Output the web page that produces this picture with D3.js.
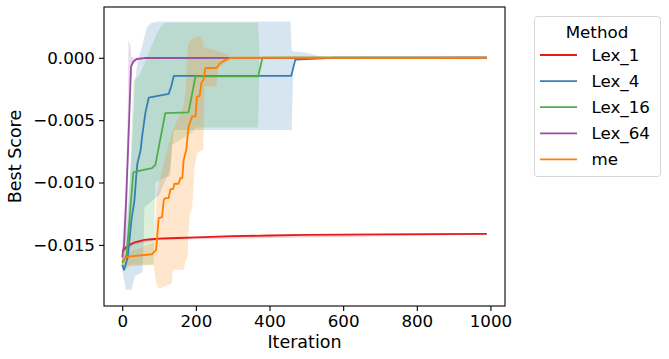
<!DOCTYPE html>
<html><head><meta charset="utf-8">
<script src="https://cdn.jsdelivr.net/npm/d3@7"></script>
<style>body{margin:0;background:#fff}svg{display:block}text{font-family:"DejaVu Sans",sans-serif;fill:#000}</style>
</head><body><svg id="c" width="669" height="359"></svg>
<script>
// ---- data ----
const methods = ["Lex_1","Lex_4","Lex_16","Lex_64","me"];
const colors = ["#e41a1c","#377eb8","#4daf4a","#984ea3","#ff7f00"];
const xTicks = [0,200,400,600,800,1000];
const yTicks = [0,-0.005,-0.010,-0.015];
const yTickLabels = ["0.000","\u22120.005","\u22120.010","\u22120.015"];

const lex1Iter = [0,10,20,30,40,60,80,100,150,200,300,400,500,700,990];
const lex1Val  = [-0.01554,-0.0152,-0.0150,-0.01485,-0.01475,-0.0146,-0.01455,-0.0145,-0.01445,-0.0144,-0.0143,-0.01425,-0.0142,-0.01416,-0.01412];
const lex1BandIter = [0,30,100,990];
const lex1Low = [-0.0157,-0.0150,-0.01458,-0.01418];
const lex1High= [-0.0154,-0.0147,-0.01442,-0.01406];

const lex4Iter = [0,5,15,25,33,38,41,50,54,63,72,90,126,133,140,459,470,573,990];
const lex4Val  = [-0.0166,-0.0170,-0.0160,-0.0130,-0.0115,-0.0095,-0.0085,-0.0074,-0.0063,-0.0044,-0.0032,-0.0031,-0.0029,-0.0023,-0.00145,-0.00145,-0.00015,0,0];
const lex4BandIter = [0,10,25,30,35,41,55,58,60,68,80,100,130,140,457,460,465,500,540,575,990];
const lex4Low  = [-0.0170,-0.0186,-0.0186,-0.0180,-0.0175,-0.0174,-0.0172,-0.0150,-0.0120,-0.0118,-0.0115,-0.0110,-0.0090,-0.0058,-0.0058,-0.0058,-0.0002,-0.0001,-0.00005,0,0];
const lex4High = [-0.0160,-0.0140,-0.0080,-0.0050,-0.0018,-0.0004,0.0010,0.0014,0.0017,0.0025,0.0028,0.0029,0.0029,0.0029,0.0029,0.0006,0.0005,0.0004,0.0001,0,0];

const lex16Iter = [0,12,22,30,36,81,90,117,180,199,369,381,990];
const lex16Val  = [-0.01645,-0.0158,-0.0122,-0.0092,-0.00912,-0.00884,-0.00858,-0.00443,-0.00438,-0.00149,-0.00149,0,0];
const lex16BandIter = [0,10,20,30,45,60,80,85,90,105,115,130,135,190,200,369,373,990];
const lex16Low  = [-0.0168,-0.0170,-0.0166,-0.0166,-0.0166,-0.0166,-0.0166,-0.0166,-0.0100,-0.0098,-0.0096,-0.0095,-0.0070,-0.0060,-0.0056,-0.0056,0,0];
const lex16High = [-0.0160,-0.0150,-0.0110,-0.0018,-0.0015,-0.0005,0.0010,0.0013,0.0017,0.0025,0.0028,0.0028,0.0028,0.0028,0.0028,0.0028,0,0];

const lex64Iter = [0,5,10,15,20,24,30,40,60,990];
const lex64Val  = [-0.0160,-0.0150,-0.0118,-0.0080,-0.0040,-0.0007,-0.0003,-0.0001,-0.00002,0];
const lex64BandIter = [0,10,15,17,22,25,30,40,60,990];
const lex64Low  = [-0.0168,-0.0140,-0.0110,-0.0080,-0.0020,-0.0009,-0.0005,-0.0002,0,0];
const lex64High = [-0.0152,-0.0100,-0.0040,0.0014,0.0010,0.0001,0,0,0,0];

const meIter = [0,14,36,81,92,99,108,113,117,126,131,138,142,153,158,163,167,174,180,190,199,203,210,215,221,226,256,266,280,293,299,990];
const meVal  = [-0.0163,-0.01594,-0.01588,-0.01575,-0.0154,-0.01286,-0.01278,-0.01139,-0.01125,-0.01125,-0.01053,-0.01053,-0.0101,-0.0101,-0.00965,-0.00965,-0.00818,-0.00738,-0.00551,-0.0047,-0.0047,-0.0031,-0.0031,-0.00202,-0.00176,-0.00082,-0.00082,-0.00042,-0.00019,-0.00002,0,0];
const meBandIter = [0,85,92,93,100,135,137,162,167,172,176,177,180,183,190,197,205,212,220,221,224,248,255,262,275,290,293,300,307,990];
const meLow  = [-0.0168,-0.0166,-0.0180,-0.0181,-0.0185,-0.0181,-0.0170,-0.0170,-0.0170,-0.0162,-0.0161,-0.0160,-0.0140,-0.0127,-0.0120,-0.0085,-0.0076,-0.0075,-0.0074,-0.0060,-0.0023,-0.0023,-0.0023,-0.0008,-0.0005,-0.0002,-0.0001,0,0,0];
const meHigh = [-0.0158,-0.0148,-0.0120,-0.0111,-0.0100,-0.0059,-0.0058,-0.0042,-0.0038,-0.0028,-0.0002,0.0002,0.0012,0.0013,0.0015,0.0016,0.0017,0.0017,0.0012,0.0008,0.0008,0.00065,0.0006,0.0005,0.0004,0.0002,0.0001,0.00005,0,0];

const seriesIter = [lex1Iter,lex4Iter,lex16Iter,lex64Iter,meIter];
const seriesVal  = [lex1Val,lex4Val,lex16Val,lex64Val,meVal];
const bandIter = [lex1BandIter,lex4BandIter,lex16BandIter,lex64BandIter,meBandIter];
const bandLow  = [lex1Low,lex4Low,lex16Low,lex64Low,meLow];
const bandHigh = [lex1High,lex4High,lex16High,lex64High,meHigh];

// ---- layout ----
const L=104, R=505, T=7, B=306;
const svg = d3.select("#c");
const x = d3.scaleLinear().domain([-49.5,1039.5]).range([L,R]);
const y = d3.scaleLinear().domain([-0.0199,0.00407]).range([B,T]);

const gBands = svg.append("g");
const gLines = svg.append("g");
methods.forEach((m,i)=>{
  const pts = bandIter[i].map((t,j)=>({t, lo:bandLow[i][j], hi:bandHigh[i][j]}));
  gBands.append("path").attr("d", d3.area().x(d=>x(d.t)).y0(d=>y(d.lo)).y1(d=>y(d.hi))(pts))
    .attr("fill",colors[i]).attr("fill-opacity",0.2).attr("stroke","none");
});
methods.forEach((m,i)=>{
  const pts = seriesIter[i].map((t,j)=>({t, v:seriesVal[i][j]}));
  gLines.append("path").attr("d", d3.line().x(d=>x(d.t)).y(d=>y(d.v))(pts))
    .attr("fill","none").attr("stroke",colors[i]).attr("stroke-width",1.8).attr("stroke-linejoin","round");
});

// axes
const xAxis = d3.axisBottom(x).tickValues(xTicks).tickSize(5).tickPadding(4).tickFormat(d3.format("d"));
const gx = svg.append("g").attr("transform",`translate(0,${B})`).call(xAxis);
const yAxis = d3.axisLeft(y).tickValues(yTicks).tickSize(5).tickPadding(4).tickFormat((d,i)=>yTickLabels[i]);
const gy = svg.append("g").attr("transform",`translate(${L},0)`).call(yAxis);
[gx,gy].forEach(g=>{
  g.select(".domain").remove();
  g.selectAll(".tick line").attr("stroke","#000").attr("stroke-width",1.1);
  g.selectAll(".tick text").attr("font-size",16.7).attr("font-family","DejaVu Sans").attr("fill","#000");
});
svg.append("rect").attr("x",L).attr("y",T).attr("width",R-L).attr("height",B-T)
  .attr("fill","none").attr("stroke","#000").attr("stroke-width",1.1);

svg.append("text").attr("x",(L+R)/2).attr("y",348).attr("text-anchor","middle").attr("font-size",17.5).text("Iteration");
svg.append("text").attr("transform",`translate(21,${(T+B)/2}) rotate(-90)`).attr("text-anchor","middle").attr("font-size",17.5).text("Best Score");

// legend
const lg = svg.append("g");
lg.append("rect").attr("x",534.5).attr("y",16.5).attr("width",126).attr("height",160).attr("rx",3)
  .attr("fill","#fff").attr("fill-opacity",0.8).attr("stroke","#d6d6d6").attr("stroke-width",1);
lg.append("text").attr("x",597).attr("y",37.5).attr("text-anchor","middle").attr("font-size",16.7).text("Method");
methods.forEach((m,i)=>{
  const yy = 55 + i*26.1;
  lg.append("line").attr("x1",540).attr("x2",577).attr("y1",yy).attr("y2",yy).attr("stroke",colors[i]).attr("stroke-width",1.8);
  lg.append("text").attr("x",591.5).attr("y",yy+6).attr("font-size",16.7).text(m);
});
</script></body></html>
